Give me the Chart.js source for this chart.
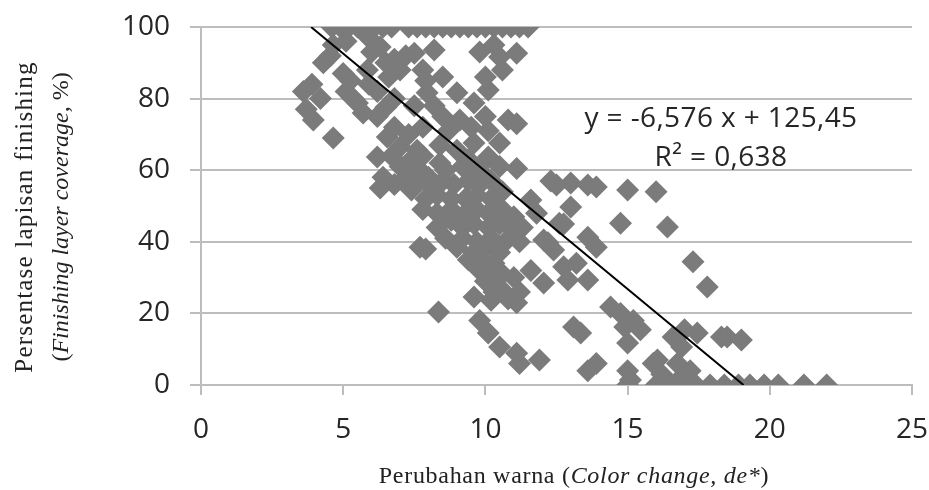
<!DOCTYPE html>
<html>
<head>
<meta charset="utf-8">
<script src="https://cdn.jsdelivr.net/npm/chart.js@4.4.0/dist/chart.umd.min.js"></script>
<style>
    body { margin: 0; background: #fff; }
    #wrap { position: relative; width: 929px; height: 490px; }
    #chart { position: absolute; left: 0; top: 0; }
    .axis-title { position: absolute; font-family: "Liberation Serif", serif; color: #222; white-space: nowrap; text-align: center; }
    #yTitle { width: 440px; left: -178px; top: 181px; font-size: 25px; letter-spacing: 1.2px; line-height: 36px; transform: rotate(-90deg); }
    #yTitle span { font-size: 24px; letter-spacing: 0; }
    #xTitle { width: 600px; left: 274px; top: 462px; font-size: 24px; letter-spacing: 0.7px; }
    .eq { position: absolute; font-family: "Open Sans", sans-serif; font-size: 28px; letter-spacing: 0.4px; color: #262626; white-space: nowrap; text-align: center; width: 340px; }
</style>
</head>
<body>
<div id="wrap">
    <canvas id="chart" width="929" height="490"></canvas>
    <div id="yTitle" class="axis-title">Persentase lapisan finishing<br><span>(<i>Finishing layer coverage,</i> %)</span></div>
    <div id="xTitle" class="axis-title">Perubahan warna (<i>Color change, de*</i>)</div>
    <div class="eq" style="left:551px; top:97px;">y = -6,576 x + 125,45</div>
    <div class="eq" style="left:551px; top:136px;">R² = 0,638</div>
</div>
<script>
// tick labels
const xTicks = [0, 5, 10, 15, 20, 25];
const yTicks = [0, 20, 40, 60, 80, 100];

// trend line from the equation shown on the chart
const slope = -6.576;
const intercept = 125.45;

// samples sitting on the 100 % line
const fullCoverX = [4.6, 4.9, 5.2, 5.5, 5.8, 6.1, 6.4, 6.7, 7.3, 7.6, 7.9, 8.2, 8.5, 8.8, 9.1, 9.4, 9.7, 10.0, 10.3, 10.6, 10.9, 11.2, 11.5];

// samples sitting on the 0 % line
const zeroCoverX = [15.0, 16.0, 16.5, 17.0, 17.4, 17.9, 18.4, 18.9, 19.3, 19.8, 20.3, 21.2, 22.0];

// all the other samples (colour change, coverage %)
const colorChange = [
    3.6, 3.7, 3.9, 3.95, 4.2, 4.3, 4.55, 4.65,
    4.65, 5.0, 5.1, 5.25, 5.35, 5.5, 5.1, 5.9,
    5.85, 6.0, 6.2, 6.3, 6.5, 6.6, 6.5, 6.8,
    7.2, 7.5, 7.0, 7.8, 8.2, 8.5, 7.95, 7.5,
    6.2, 5.9, 5.7, 6.8, 7.9, 8.2, 9.0, 9.6,
    10.1, 10.5, 11.1, 10.6, 10.0, 9.8, 10.3,
    9.1, 8.5, 10.8, 11.1, 10.1, 8.7, 9.5, 7.8,
    6.55, 7.0, 7.6, 8.4, 9.0, 9.6, 10.5, 10.1,
    6.2, 6.4, 7.0, 7.7, 8.4, 10.5, 11.1, 9.2,
    9.8, 7.3, 6.8, 10.0,
    6.7, 7.4, 7.2, 6.8, 7.8, 8.0, 8.6, 9.4,
    6.3, 7.1, 7.6, 8.0, 8.5, 8.9, 9.4, 9.8,
    10.2, 7.4, 7.9, 8.3, 8.8, 9.3, 9.7, 10.2,
    10.6, 7.8, 8.3, 8.8, 9.3, 9.7, 10.1, 10.6,
    11.0, 8.3, 8.8, 9.2, 9.6, 10.1, 10.5, 11.0,
    11.3, 8.6, 9.2, 9.7, 10.2, 10.7, 11.2, 9.0,
    9.6, 10.0, 10.5, 10.4, 9.4, 9.8, 10.3, 10.0,
    9.8, 10.2, 10.6, 11.6, 10.0, 10.4, 11.0,
    10.3, 10.6, 11.2, 9.6, 10.2, 10.8, 11.1,
    12.3, 12.5, 13.0, 13.6, 13.9, 15.0, 16.0, 13.0,
    11.6, 11.8, 12.6, 12.75, 12.05, 12.4, 12.2, 13.6,
    13.9, 13.2, 12.75, 13.6, 12.9, 12.05, 14.75, 16.4,
    17.3, 17.8, 7.7, 7.9,
    8.35, 9.8, 10.1, 10.5, 11.1, 11.9, 11.2, 13.1,
    13.35, 14.4, 14.75, 15.2, 14.9, 15.45, 15.0, 13.6,
    13.9, 15.0, 15.1, 15.9, 16.05, 16.75, 16.9, 16.9,
    17.0, 16.6, 17.45, 18.3, 18.5, 19.0, 16.2, 17.2
];
const coverage = [
    82, 77, 84, 74, 80, 90, 92, 69,
    95, 87, 82, 85, 80, 78.8, 96, 97,
    88, 93, 82, 94.4, 77.6, 86, 90, 91,
    92, 92.7, 88, 88, 93.6, 86, 81.6, 78,
    75, 84, 76, 80, 85, 78, 81.6, 78.8,
    82.4, 91.6, 92.7, 88, 86, 93, 95,
    74, 75, 74, 73, 71, 71, 72, 72,
    69.3, 66.5, 65.6, 67, 65.6, 67.6, 67.6, 63.7,
    63.7, 58, 61, 60, 62, 61, 60.5, 61,
    60, 70, 72, 75,
    64, 63, 58, 56, 64, 58, 60, 63,
    55, 57, 57, 56, 57, 56, 57, 56,
    57, 54.5, 52, 53, 52, 52, 53, 52,
    54, 49, 48, 49, 48, 49, 48, 49,
    47, 44, 46, 44, 45, 44, 45, 43,
    44, 41, 41, 40, 41, 40, 40, 38.5,
    37, 38, 37, 39, 35, 35.8, 34, 33,
    32, 30, 31, 32, 29, 28, 30,
    26, 26.5, 26, 24.6, 23.7, 24, 23,
    57, 55.9, 56.4, 55.9, 55.3, 54.5, 54, 49.7,
    51.7, 48, 45.2, 45, 40.5, 37.7, 39.7, 41.3,
    38.5, 34, 33, 29.3, 29.3, 28.5, 45.2, 44.1,
    34.4, 27.4, 38.5, 38,
    20.4, 18, 14.5, 10.6, 8.9, 7, 6, 16.2,
    14.5, 21.8, 20, 18, 16.2, 15.4, 11.7, 4,
    6, 4, 1.4, 6, 7, 6, 2.2, 10.6,
    15.4, 13.4, 14.5, 13.4, 13.4, 12.6, 3, 4
];

const points = colorChange.map((x, i) => ({ x: x, y: coverage[i] }))
    .concat(fullCoverX.map(x => ({ x: x, y: 100 })))
    .concat(zeroCoverX.map(x => ({ x: x, y: 0 })));

// trend line runs from 100 % down to 0 %
const trendStart = (100 - intercept) / slope;
const trendEnd = (0 - intercept) / slope;

const gridGrey = '#bdbdbd';
const tickFont = { family: 'Open Sans', size: 28 };

const ctx = document.getElementById('chart').getContext('2d');

new Chart(ctx, {
    type: 'scatter',
    data: {
        datasets: [{
            type: 'line',
            label: 'Trend',
            data: [{ x: trendStart, y: 100 }, { x: trendEnd, y: 0 }],
            borderColor: '#000',
            borderWidth: 2,
            pointRadius: 0,
            fill: false,
            order: 0
        }, {
            label: 'Samples',
            data: points,
            pointStyle: 'rectRot',
            pointRadius: 11.5,
            backgroundColor: '#7b7b7b',
            borderColor: '#7b7b7b',
            borderWidth: 0,
            order: 1
        }]
    },
    options: {
        responsive: false,
        animation: false,
        layout: { padding: { left: 0, top: 27, right: 17, bottom: 0 } },
        plugins: {
            legend: { display: false },
            tooltip: { enabled: false }
        },
        scales: {
            x: {
                type: 'linear',
                min: 0,
                max: 25,
                afterBuildTicks: s => { s.ticks = xTicks.map(v => ({ value: v })); },
                afterFit: s => { s.height = 105; s.paddingLeft = 0; s.paddingRight = 0; },
                ticks: { font: tickFont, color: '#262626', padding: 18, maxRotation: 0 },
                grid: { drawOnChartArea: false, color: gridGrey, lineWidth: 2, tickLength: 10 },
                border: { color: gridGrey, width: 2 }
            },
            y: {
                min: 0,
                max: 100,
                afterBuildTicks: s => { s.ticks = yTicks.map(v => ({ value: v })); },
                afterFit: s => { s.width = 201; s.paddingTop = 0; s.paddingBottom = 0; },
                ticks: { font: tickFont, color: '#262626', padding: 20 },
                grid: { color: gridGrey, lineWidth: 2, tickLength: 11 },
                border: { color: gridGrey, width: 2 }
            }
        }
    }
});
</script>
</body>
</html>
